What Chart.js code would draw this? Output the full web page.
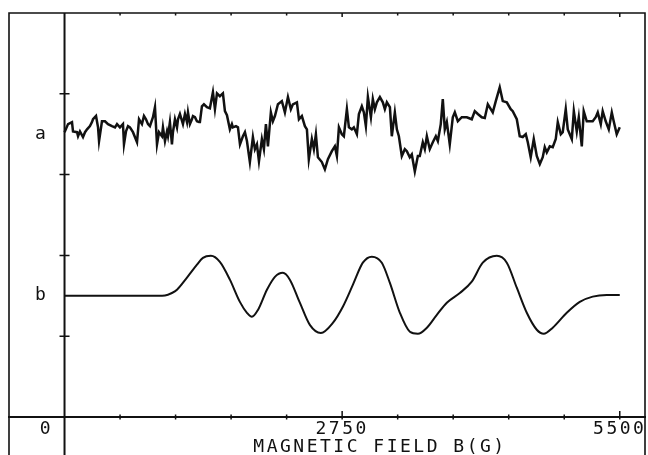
<!DOCTYPE html>
<html lang="en">
<head>
  <meta charset="UTF-8">
  <title>Magnetic field spectra a / b</title>
  <script src="https://cdn.jsdelivr.net/npm/chart.js"></script>
  <style>
    html, body { margin: 0; padding: 0; background: #fff; }
    #wrap { width: 648px; height: 455px; }
  </style>
</head>
<body>
  <div id="wrap"><canvas id="spectra" width="648" height="455"></canvas></div>

  <script>
    // --- data (field in G, signal in plot divisions around each trace's baseline) ---
    const fieldA = [0, 35, 74, 84, 124, 134, 153, 183, 203, 223, 252, 272, 282, 312, 332, 342, 371, 401, 431, 470,
      500, 520, 549, 579, 589, 609, 629, 648, 678, 718, 738, 767, 787, 807, 827, 846, 876, 896, 916, 936,
      965, 975, 995, 1015, 1025, 1044, 1064, 1074, 1094, 1114, 1124, 1143, 1173, 1193, 1213, 1223, 1242, 1262, 1272, 1292,
      1312, 1332, 1341, 1361, 1381, 1411, 1440, 1470, 1490, 1510, 1539, 1569, 1589, 1609, 1638, 1658, 1668, 1698, 1718, 1738,
      1767, 1787, 1807, 1836, 1866, 1886, 1906, 1926, 1955, 1975, 1995, 2015, 2044, 2064, 2084, 2114, 2153, 2183, 2213, 2242,
      2262, 2302, 2322, 2351, 2381, 2401, 2420, 2450, 2470, 2490, 2510, 2549, 2579, 2609, 2648, 2678, 2698, 2718, 2747, 2767,
      2797, 2817, 2846, 2866, 2896, 2916, 2945, 2965, 2985, 3005, 3035, 3054, 3074, 3094, 3124, 3153, 3173, 3193, 3223, 3242,
      3272, 3292, 3312, 3341, 3371, 3391, 3420, 3440, 3470, 3500, 3519, 3549, 3569, 3589, 3618, 3648, 3678, 3698, 3727, 3747,
      3767, 3787, 3816, 3846, 3866, 3896, 3935, 3985, 4034, 4064, 4094, 4133, 4163, 4193, 4242, 4272, 4311, 4341, 4381, 4420,
      4440, 4480, 4509, 4539, 4569, 4589, 4618, 4648, 4678, 4708, 4737, 4757, 4777, 4807, 4836, 4866, 4886, 4916, 4935, 4965,
      4985, 5025, 5045, 5074, 5094, 5124, 5143, 5173, 5203, 5232, 5262, 5282, 5312, 5331, 5361, 5391, 5421, 5440, 5470, 5500];
    const signalA = [0.05, 0.25, 0.30, 0.07, 0.05, -0.05, 0.07, -0.07, 0.05, 0.12, 0.20, 0.30, 0.37, 0.45, 0.17, -0.17, 0.32, 0.32, 0.25, 0.20,
      0.17, 0.25, 0.17, 0.25, -0.25, 0.07, 0.20, 0.17, 0.05, -0.20, 0.37, 0.25, 0.45, 0.37, 0.25, 0.20, 0.42, 0.67, -0.25, 0.05,
      -0.05, 0.17, -0.17, 0.07, -0.05, 0.30, -0.25, 0.05, 0.37, 0.17, 0.37, 0.50, 0.25, 0.50, 0.30, 0.54, 0.25, 0.37, 0.45, 0.42,
      0.32, 0.30, 0.30, 0.69, 0.74, 0.67, 0.64, 1.04, 0.62, 1.01, 0.94, 1.01, 0.57, 0.47, 0.12, 0.25, 0.17, 0.20, 0.17, -0.25,
      -0.05, 0.05, -0.17, -0.69, -0.07, -0.37, -0.25, -0.67, -0.12, -0.37, 0.25, -0.30, 0.54, 0.32, 0.45, 0.74, 0.82, 0.54, 0.92, 0.62,
      0.74, 0.79, 0.37, 0.45, 0.20, 0.12, -0.62, -0.12, -0.37, 0.00, -0.57, -0.69, -0.87, -0.62, -0.42, -0.30, -0.54, 0.17, 0.00, -0.05,
      0.62, 0.17, 0.12, 0.17, 0.00, 0.50, 0.69, 0.54, 0.20, 0.92, 0.42, 0.87, 0.62, 0.79, 0.92, 0.79, 0.62, 0.79, 0.67, -0.05,
      0.54, 0.12, -0.05, -0.54, -0.37, -0.42, -0.57, -0.50, -0.92, -0.54, -0.54, -0.20, -0.37, -0.05, -0.37, -0.20, -0.05, -0.17, 0.25, 0.87,
      0.12, 0.30, -0.25, 0.42, 0.54, 0.32, 0.42, 0.42, 0.37, 0.57, 0.50, 0.42, 0.40, 0.74, 0.54, 0.82, 1.16, 0.82, 0.79, 0.62,
      0.57, 0.37, -0.05, -0.07, 0.00, -0.20, -0.57, -0.12, -0.54, -0.74, -0.57, -0.32, -0.45, -0.30, -0.32, -0.12, 0.30, 0.00, 0.05, 0.62,
      0.12, -0.12, 0.57, 0.07, 0.42, -0.30, 0.57, 0.32, 0.32, 0.32, 0.42, 0.54, 0.25, 0.57, 0.32, 0.12, 0.54, 0.32, 0.00, 0.17];

    const fieldB = [0, 549, 846, 995, 1064, 1114, 1213, 1312, 1371, 1450, 1539, 1638, 1737, 1807, 1856, 1916, 2005, 2084, 2163, 2232,
      2331, 2430, 2539, 2658, 2757, 2856, 2955, 3044, 3143, 3223, 3322, 3421, 3500, 3589, 3688, 3787, 3916, 4034, 4143, 4282,
      4381, 4480, 4579, 4678, 4747, 4836, 4975, 5104, 5232, 5371, 5500];
    const signalB = [0, 0, 0, 0.01, 0.07, 0.15, 0.45, 0.77, 0.94, 0.99, 0.84, 0.40, -0.15, -0.42, -0.52, -0.35, 0.15, 0.47, 0.57, 0.40,
      -0.17, -0.72, -0.92, -0.67, -0.27, 0.27, 0.82, 0.97, 0.82, 0.32, -0.42, -0.89, -0.94, -0.79, -0.47, -0.17, 0.07, 0.35, 0.82, 0.99,
      0.82, 0.20, -0.42, -0.84, -0.94, -0.79, -0.42, -0.15, -0.02, 0.02, 0.02];

    const baseA = 7;          // trace a sits on this level
    const baseB = 3;          // trace b sits on this level
    const fieldTicks = [0, 550, 1100, 1650, 2200, 2750, 3300, 3850, 4400, 4950, 5500];
    const fieldLabels = { 2750: '2750', 5500: '5500' };
    const levelTicks = [2, 3, 4, 6, 7, 8];
    const levelLabels = { 3: 'b', 7: 'a' };
    const xTitle = 'MAGNETIC FIELD B(G)';

    const INK = '#111';
    const FONT = "'DejaVu Sans Mono', monospace";

    // frame, y axis line, crossing tick marks, origin label and axis caption (old plotter look)
    const plotterFrame = {
      id: 'plotterFrame',
      beforeLayout(chart) { chart.ctx.letterSpacing = '2.5px'; },
      beforeDraw(chart) { chart.ctx.letterSpacing = '2.5px'; },
      afterDraw(chart) {
        const { ctx, chartArea: a, scales: { x, y } } = chart;
        const x0 = x.getPixelForValue(0);
        const y0 = y.getPixelForValue(0);
        ctx.save();
        ctx.strokeStyle = INK;
        ctx.lineWidth = 1.6;
        ctx.beginPath();
        ctx.moveTo(a.left, a.bottom);
        ctx.lineTo(a.left, a.top);
        ctx.lineTo(a.right, a.top);
        ctx.lineTo(a.right, a.bottom);
        ctx.stroke();

        ctx.lineWidth = 2;
        ctx.beginPath();
        ctx.moveTo(x0, a.top);
        ctx.lineTo(x0, a.bottom);
        ctx.stroke();

        ctx.lineWidth = 1.5;
        ctx.beginPath();
        fieldTicks.forEach(v => {
          if (v === 0) return;
          const px = x.getPixelForValue(v);
          const major = v in fieldLabels;
          ctx.moveTo(px, y0 - (major ? 6 : 2.5));
          ctx.lineTo(px, y0 + 2.5);
          ctx.moveTo(px, a.top);
          ctx.lineTo(px, a.top + (major ? 4 : 2.5));
        });
        levelTicks.forEach(v => {
          if (v in levelLabels) return;
          const py = y.getPixelForValue(v);
          ctx.moveTo(x0 - 5, py);
          ctx.lineTo(x0 + 5, py);
        });
        ctx.stroke();

        ctx.fillStyle = INK;
        ctx.font = '18px ' + FONT;
        ctx.letterSpacing = '2.5px';
        ctx.textAlign = 'center';
        ctx.textBaseline = 'middle';
        ctx.fillText('0', x0 - 18, y0 + 12);
        ctx.fillText(xTitle, x.getPixelForValue(3125), y0 + 30);
        ctx.restore();
      }
    };

    Chart.defaults.font.family = FONT;
    Chart.defaults.font.size = 18;
    Chart.defaults.color = INK;

    const ctx = document.getElementById('spectra').getContext('2d');
    new Chart(ctx, {
      type: 'line',
      data: {
        datasets: [
          {
            label: 'a',
            data: fieldA.map((g, i) => ({ x: g, y: baseA + signalA[i] })),
            borderColor: INK,
            borderWidth: 2.5,
            pointRadius: 0,
            tension: 0
          },
          {
            label: 'b',
            data: fieldB.map((g, i) => ({ x: g, y: baseB + signalB[i] })),
            borderColor: INK,
            borderWidth: 2,
            pointRadius: 0,
            cubicInterpolationMode: 'monotone'
          }
        ]
      },
      options: {
        responsive: false,
        animation: false,
        layout: { padding: { left: 9, top: 13, right: 3, bottom: 0 } },
        plugins: { legend: { display: false }, tooltip: { enabled: false } },
        scales: {
          x: {
            type: 'linear',
            min: -550,
            max: 5750,
            position: { y: 0 },
            afterBuildTicks: s => { s.ticks = fieldTicks.map(v => ({ value: v })); },
            ticks: {
              autoSkip: false,
              maxRotation: 0,
              padding: -9,
              callback: v => fieldLabels[v] || ''
            },
            grid: { drawOnChartArea: false, drawTicks: true, tickLength: 11, tickColor: 'rgba(0,0,0,0)' },
            border: { display: true, color: INK, width: 2 }
          },
          y: {
            type: 'linear',
            min: -0.94,
            max: 10,
            // labels a / b sit left of the vertical axis, like the plotter output
            position: { x: -160 },
            afterBuildTicks: s => { s.ticks = levelTicks.map(v => ({ value: v })); },
            ticks: {
              autoSkip: false,
              padding: -11,
              callback: v => levelLabels[v] || ''
            },
            grid: { drawOnChartArea: false, drawTicks: false },
            border: { display: false }
          }
        }
      },
      plugins: [plotterFrame]
    });
  </script>
</body>
</html>
